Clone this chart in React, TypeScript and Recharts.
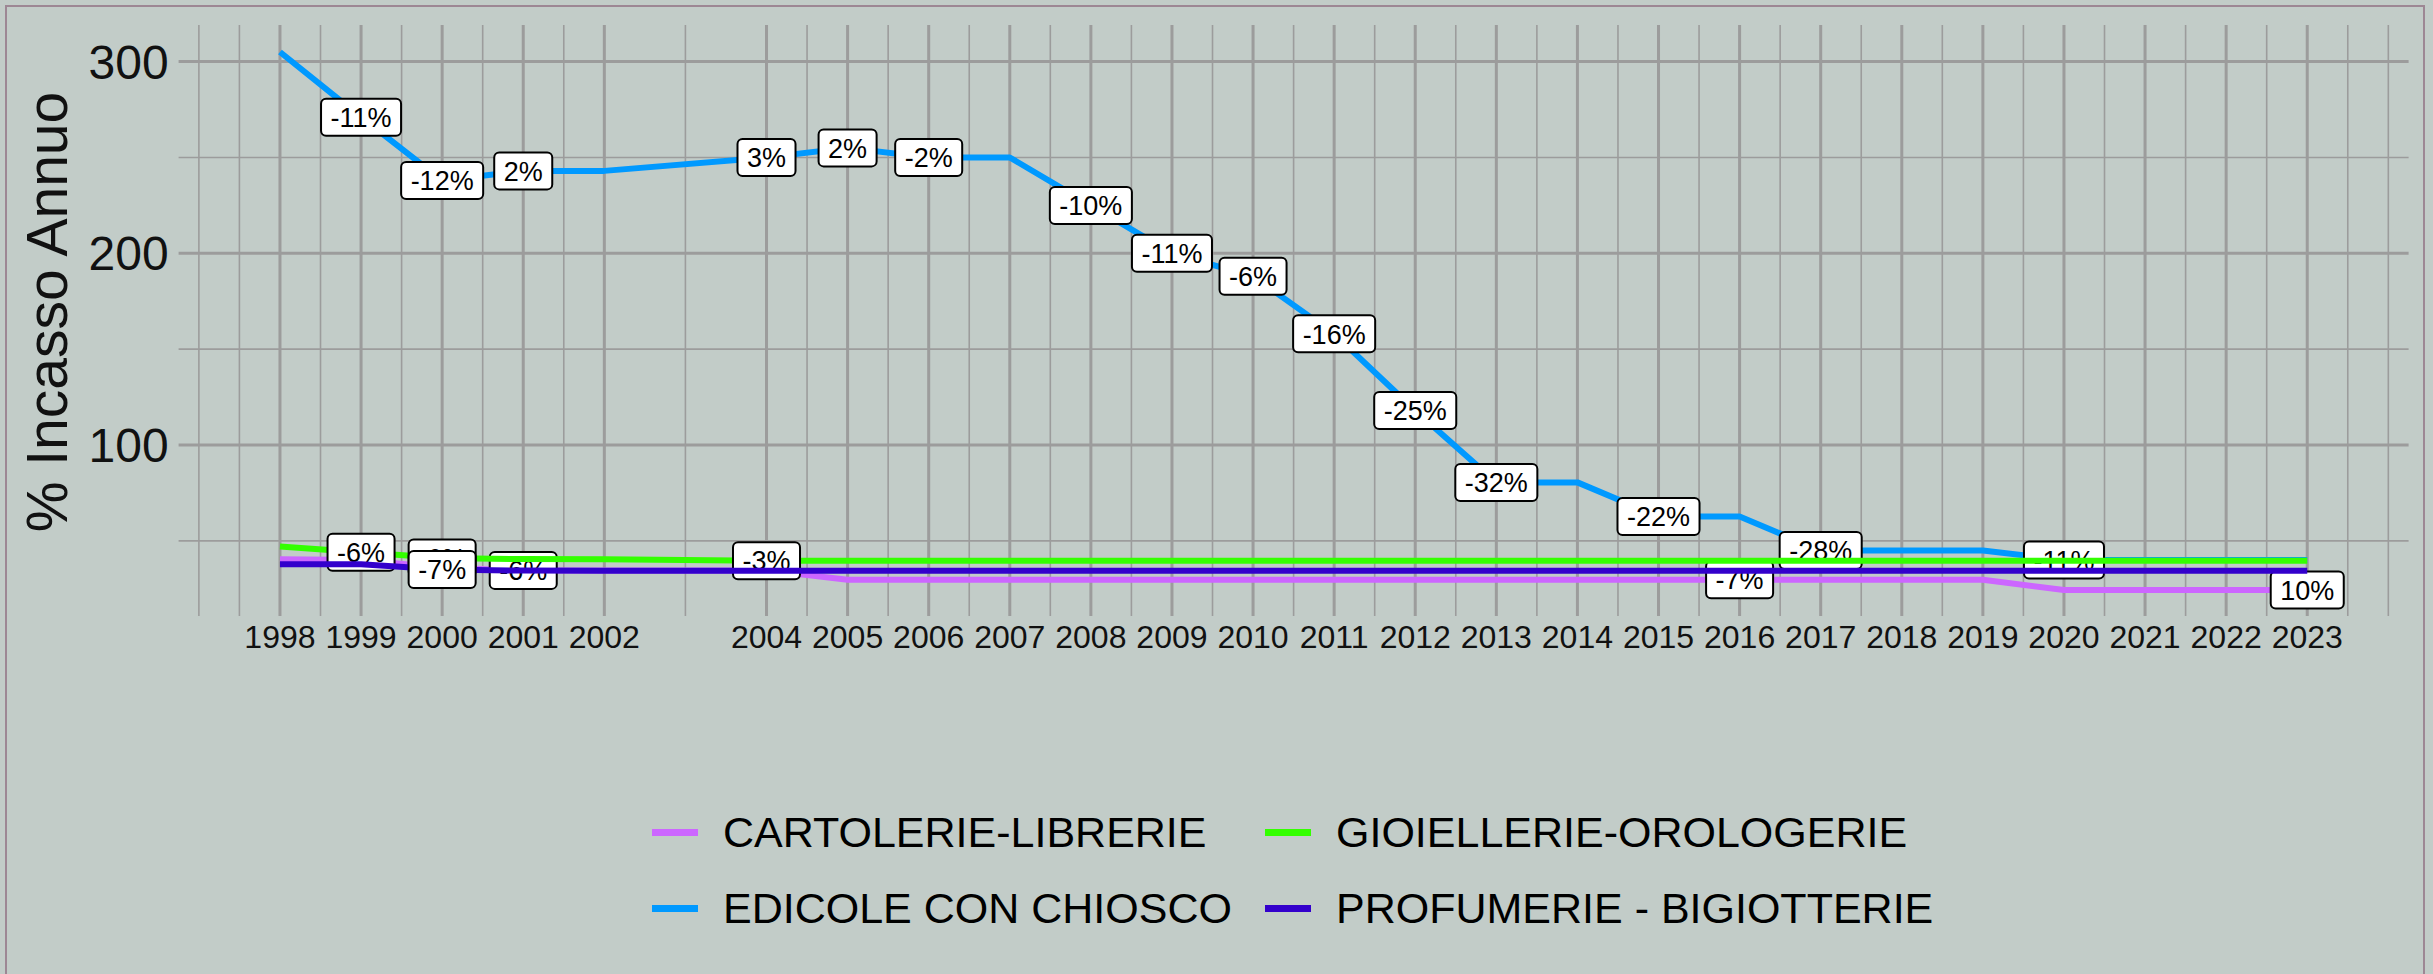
import React from 'react';
import { LineChart, Line, XAxis, YAxis, CartesianGrid, Legend, LabelList } from 'recharts';

const years = [1998, 1999, 2000, 2001, 2002, 2004, 2005, 2006, 2007, 2008, 2009, 2010, 2011, 2012, 2013, 2014, 2015, 2016, 2017, 2018, 2019, 2020, 2021, 2022, 2023];

const cartolerie = [40.4, 40, 36, 34.6, 34.6, 34.6, 29.7, 29.7, 29.7, 29.7, 29.7, 29.7, 29.7, 29.7, 29.7, 29.7, 29.7, 29.7, 29.7, 29.7, 29.7, 24.4, 24.4, 24.4, 24.4];
const edicole = [305, 271, 238, 243, 243, 250, 255, 250, 250, 225, 200, 188, 158, 118, 80.5, 80.5, 62.7, 62.7, 45, 45, 45, 40, 40, 40, 40];
const gioiellerie = [47, 44, 41, 40.5, 40.4, 39.6, 39.6, 39.6, 39.6, 39.6, 39.6, 39.6, 39.6, 39.6, 39.6, 39.6, 39.6, 39.6, 39.6, 39.6, 39.6, 39.6, 39.6, 39.6, 39.6];
const profumerie = [37.8, 37.8, 35, 34.5, 34.4, 34.4, 34.4, 34.4, 34.4, 34.4, 34.4, 34.4, 34.4, 34.4, 34.4, 34.4, 34.4, 34.4, 34.4, 34.4, 34.4, 34.4, 34.4, 34.4, 34.4];

// percent labels shown on the points ('' = no label)
const cartolerieLabels = ['', '', '', '-6%', '', '', '', '', '', '', '', '', '', '', '', '', '', '-7%', '', '', '', '', '', '', '10%'];
const edicoleLabels = ['', '-11%', '-12%', '2%', '', '3%', '2%', '-2%', '', '-10%', '-11%', '-6%', '-16%', '-25%', '-32%', '', '-22%', '', '-28%', '', '', '-11%', '', '', ''];
const gioiellerieLabels = ['', '-6%', '-6%', '', '', '-3%', '', '', '', '', '', '', '', '', '', '', '', '', '', '', '', '', '', '', ''];
const profumerieLabels = ['', '', '-7%', '', '', '', '', '', '', '', '', '', '', '', '', '', '', '', '', '', '', '', '', '', ''];

const yTicks = [100, 200, 300];
const yMinor = [50, 150, 250];
const xMinor = [1997, 1997.5, 1998.5, 1999.5, 2000.5, 2001.5, 2003, 2004.5, 2005.5, 2006.5, 2007.5, 2008.5, 2009.5, 2010.5, 2011.5, 2012.5, 2013.5, 2014.5, 2015.5, 2016.5, 2017.5, 2018.5, 2019.5, 2020.5, 2021.5, 2022.5, 2023.5, 2024];

const series = [
  { key: 'cartolerie', lab: 'lab_cartolerie', name: 'CARTOLERIE-LIBRERIE', color: '#CC66FF' },
  { key: 'edicole', lab: 'lab_edicole', name: 'EDICOLE CON CHIOSCO', color: '#0099FF' },
  { key: 'gioiellerie', lab: 'lab_gioiellerie', name: 'GIOIELLERIE-OROLOGERIE', color: '#33FF00' },
  { key: 'profumerie', lab: 'lab_profumerie', name: 'PROFUMERIE - BIGIOTTERIE', color: '#3300CC' },
];

const data = years.map((year, i) => ({
  year,
  cartolerie: cartolerie[i],
  edicole: edicole[i],
  gioiellerie: gioiellerie[i],
  profumerie: profumerie[i],
  lab_cartolerie: cartolerieLabels[i],
  lab_edicole: edicoleLabels[i],
  lab_gioiellerie: gioiellerieLabels[i],
  lab_profumerie: profumerieLabels[i],
}));

const FONT = '"Liberation Sans", Arial, Helvetica, sans-serif';
const BG = '#C2CCC8';
const GRID = '#9c9c9c';

let ctx: CanvasRenderingContext2D | null = null;
const measure = (s: string, size: number) => {
  if (!ctx) ctx = document.createElement('canvas').getContext('2d');
  if (!ctx) return s.length * size * 0.55;
  ctx.font = `${size}px ${FONT}`;
  return ctx.measureText(s).width;
};

const LabelBox = (props: any) => {
  const { x, y, value } = props;
  if (!value) return null;
  const w = measure(String(value), 27) + 19;
  const h = 37;
  return (
    <g>
      <rect x={x - w / 2} y={y - h / 2} width={w} height={h} rx={5} fill="#fff" stroke="#000" strokeWidth={2} />
      <text x={x} y={y + 9.7} textAnchor="middle" fontSize={27} fontFamily={FONT} fill="#000">{value}</text>
    </g>
  );
};

const XTick = (props: any) => (
  <text x={props.x} y={props.y + 32} textAnchor="middle" fontSize={32} fontFamily={FONT} fill="#111">
    {props.payload.value}
  </text>
);

const YTick = (props: any) => (
  <text x={props.x - 10} y={props.y + 17} textAnchor="end" fontSize={48} fontFamily={FONT} fill="#111">
    {props.payload.value}
  </text>
);

const renderLegend = () => (
  <div style={{ position: 'relative', width: 2433, height: 153 }}>
    <div
      style={{
        position: 'absolute', left: 652, top: 0,
        display: 'grid', gridTemplateColumns: '613px auto', gridTemplateRows: '76.5px 76.5px', gridAutoFlow: 'column',
        fontFamily: FONT, fontSize: 43, color: '#000',
      }}
    >
      {series.map((s) => (
        <div key={s.key} style={{ display: 'flex', alignItems: 'center', whiteSpace: 'nowrap', lineHeight: 1 }}>
          <div style={{ width: 46, height: 7, background: s.color, marginRight: 25 }} />
          <span>{s.name}</span>
        </div>
      ))}
    </div>
  </div>
);

const App: React.FC = () => {
  return (
    <div style={{ position: 'fixed', left: 0, top: 0, width: 2433, height: 974, background: BG, overflow: 'hidden' }}>
      <div style={{ position: 'absolute', left: 5, top: 5, width: 2420, height: 990, border: '2px solid #9d8794', boxSizing: 'border-box' }} />
      <LineChart width={2433} height={974} data={data} margin={{ top: 25, right: 24.4, bottom: 308, left: 8.6 }}>
        <CartesianGrid stroke={GRID} strokeWidth={1.6} horizontalValues={yMinor} verticalValues={xMinor} />
        <CartesianGrid stroke={GRID} strokeWidth={3} horizontalValues={yTicks} verticalValues={years} />
        <XAxis
          dataKey="year" type="number" domain={[1996.75, 2024.25]} ticks={years} interval={0}
          allowDataOverflow height={50} axisLine={false} tickLine={false} tickSize={0} tickMargin={0} tick={<XTick />}
        />
        <YAxis
          type="number" domain={[10.8, 319.1]} ticks={yTicks} allowDataOverflow width={170}
          axisLine={false} tickLine={false} tickSize={0} tickMargin={0} tick={<YTick />}
          label={{
            content: () => (
              <text x={47} y={312} transform="rotate(-90, 47, 312)" textAnchor="middle" dominantBaseline="central" fontSize={57} fontFamily={FONT} fill="#111">
                % Incasso Annuo
              </text>
            ),
          }}
        />
        <Legend layout="horizontal" verticalAlign="middle" align="center" content={renderLegend} wrapperStyle={{ top: 794, left: 0, width: 2433 }} />
        {series.map((s, i) => (
          <Line
            key={s.key} type="linear" dataKey={s.key} name={s.name} stroke={s.color} strokeWidth={6}
            strokeLinejoin="round" dot={false} activeDot={false} isAnimationActive={false}
            {...({ zIndex: 400 + i * 2 } as any)}
          >
            <LabelList dataKey={s.lab} content={<LabelBox />} {...({ zIndex: 401 + i * 2 } as any)} />
          </Line>
        ))}
      </LineChart>
    </div>
  );
};

export default App;
